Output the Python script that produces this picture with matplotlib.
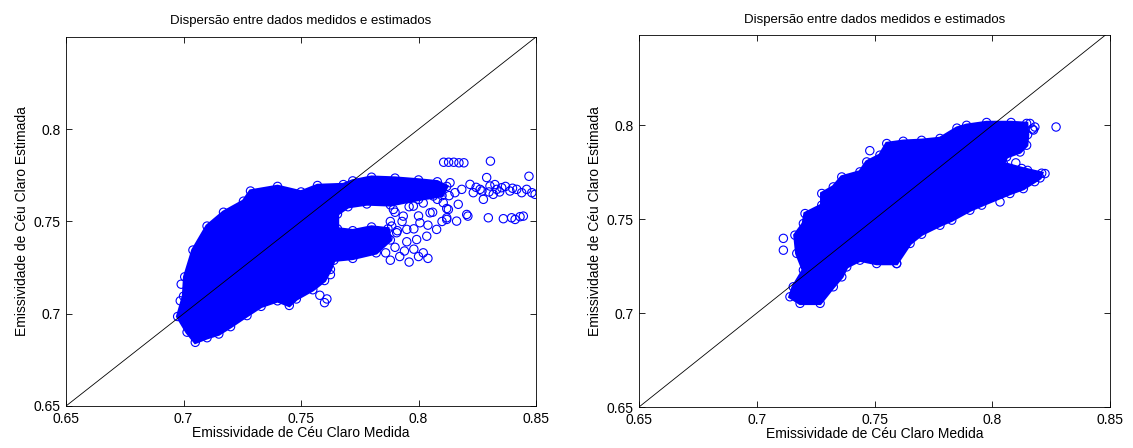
import numpy as np
import matplotlib
matplotlib.use('Agg')
import matplotlib.pyplot as plt
from matplotlib.ticker import FormatStrFormatter

plt.rcParams['font.family'] = ['Liberation Sans', 'DejaVu Sans']

# reta 1:1 (limites dos eixos)
linha_ref = [0.65, 0.85]
ticks_x = [0.65, 0.70, 0.75, 0.80, 0.85]
ticks_y = [0.65, 0.70, 0.75, 0.80]

titulo = 'Dispersão entre dados medidos e estimados'
rot_x = 'Emissividade de Céu Claro Medida'
rot_y = 'Emissividade de Céu Claro Estimada'

# ---------------- painel esquerdo ----------------
# contorno da nuvem densa (medida, estimada)
esq_nuvem_x = [0.7050, 0.7015, 0.6975, 0.7000, 0.7005, 0.7040, 0.7100, 0.7170,
               0.7255, 0.7285, 0.7400, 0.7500, 0.7570, 0.7680, 0.7720, 0.7800,
               0.7900, 0.8000, 0.8080, 0.8120, 0.8100, 0.8000, 0.7880, 0.7780,
               0.7700, 0.7655, 0.7655, 0.7720, 0.7800, 0.7870, 0.7880, 0.7820,
               0.7720, 0.7640, 0.7625, 0.7600, 0.7550, 0.7480, 0.7450, 0.7400,
               0.7330, 0.7270, 0.7200, 0.7150, 0.7100]
esq_nuvem_y = [0.6845, 0.6900, 0.6985, 0.7095, 0.7200, 0.7345, 0.7475, 0.7550,
               0.7610, 0.7665, 0.7690, 0.7660, 0.7695, 0.7700, 0.7720, 0.7740,
               0.7735, 0.7725, 0.7715, 0.7690, 0.7640, 0.7620, 0.7590, 0.7595,
               0.7580, 0.7540, 0.7460, 0.7450, 0.7470, 0.7460, 0.7400, 0.7330,
               0.7300, 0.7290, 0.7240, 0.7180, 0.7130, 0.7080, 0.7045, 0.7070,
               0.7040, 0.6990, 0.6930, 0.6890, 0.6870]

# pontos esparsos fora da nuvem
esq_pts_x = [0.790, 0.793, 0.796, 0.798, 0.800, 0.802, 0.804, 0.806, 0.808, 0.810,
             0.812, 0.813, 0.795, 0.800, 0.805, 0.792, 0.788, 0.791,
             0.7893, 0.7935, 0.7978, 0.8006, 0.8049, 0.8077, 0.8105, 0.8120,
             0.7907, 0.7950, 0.8035, 0.7964, 0.8063, 0.7921, 0.8091, 0.7886,
             0.7992, 0.8127,
             0.784, 0.786, 0.788, 0.790, 0.792, 0.794, 0.796, 0.798, 0.800,
             0.802, 0.804, 0.787, 0.795,
             0.8134, 0.8155, 0.8184, 0.8219, 0.8233, 0.8262, 0.8276, 0.8290,
             0.8304, 0.8318, 0.8333, 0.8354, 0.8389, 0.8418, 0.8439, 0.8460,
             0.8482, 0.8496, 0.8169, 0.8205, 0.8120, 0.8162, 0.8297, 0.8361,
             0.8396, 0.8432, 0.8411, 0.8446, 0.8210,
             0.8245, 0.8270, 0.8300, 0.8325, 0.8345, 0.8370, 0.8400,
             0.8107, 0.8128, 0.8150, 0.8172, 0.8193, 0.8306, 0.8470,
             0.6986, 0.6990, 0.7625, 0.7610, 0.7580, 0.7600]
esq_pts_y = [0.755, 0.750, 0.758, 0.746, 0.753, 0.760, 0.748, 0.755, 0.762, 0.750,
             0.757, 0.764, 0.765, 0.767, 0.766, 0.762, 0.750, 0.745,
             0.7565, 0.7529, 0.7583, 0.7493, 0.7547, 0.7457, 0.7602, 0.7511,
             0.7439, 0.7457, 0.7420, 0.7656, 0.7638, 0.7620, 0.7674, 0.7475,
             0.7402, 0.7565,
             0.738, 0.733, 0.729, 0.736, 0.731, 0.734, 0.728, 0.735, 0.731,
             0.733, 0.730, 0.741, 0.739,
             0.7710, 0.7656, 0.7674, 0.7701, 0.7656, 0.7674, 0.7620, 0.7738,
             0.7692, 0.7647, 0.7674, 0.7683, 0.7665, 0.7674, 0.7656, 0.7674,
             0.7656, 0.7647, 0.7593, 0.7538, 0.7520, 0.7502, 0.7520, 0.7515,
             0.7520, 0.7526, 0.7511, 0.7529, 0.7529,
             0.7685, 0.7665, 0.7660, 0.7700, 0.7660, 0.7690, 0.7680,
             0.7821, 0.7821, 0.7821, 0.7818, 0.7818, 0.7827, 0.7745,
             0.7070, 0.7160, 0.7212, 0.7080, 0.7100, 0.7060]

# ---------------- painel direito ----------------
dir_nuvem_x = [0.7184, 0.7141, 0.7155, 0.7198, 0.7170, 0.7162, 0.7198, 0.7205,
               0.7276, 0.7276, 0.7325, 0.7361, 0.7438, 0.7467, 0.7523, 0.7552,
               0.7622, 0.7700, 0.7778, 0.7850, 0.7891, 0.7976, 0.8080, 0.8146,
               0.8150, 0.8146, 0.8118, 0.8061, 0.8047, 0.8125, 0.8210, 0.8203,
               0.8132, 0.8075, 0.7955, 0.7905, 0.7828, 0.7778, 0.7700, 0.7651,
               0.7594, 0.7509, 0.7438, 0.7382, 0.7361, 0.7325, 0.7269]
dir_nuvem_y = [0.7052, 0.7087, 0.7140, 0.7229, 0.7318, 0.7415, 0.7477, 0.7530,
               0.7575, 0.7637, 0.7672, 0.7725, 0.7752, 0.7805, 0.7841, 0.7903,
               0.7915, 0.7920, 0.7930, 0.7985, 0.8000, 0.8015, 0.8015, 0.8010,
               0.7950, 0.7894, 0.7858, 0.7832, 0.7797, 0.7770, 0.7745, 0.7720,
               0.7663, 0.7637, 0.7575, 0.7548, 0.7495, 0.7468, 0.7420, 0.7371,
               0.7264, 0.7264, 0.7282, 0.7246, 0.7193, 0.7140, 0.7052]

dir_pts_x = [0.8271, 0.8181, 0.8170, 0.8160, 0.8175, 0.8033, 0.7113, 0.7113,
             0.8224, 0.8100, 0.8150, 0.8180, 0.8100, 0.7594, 0.7480, 0.8000]
dir_pts_y = [0.7991, 0.7991, 0.7980, 0.8010, 0.7975, 0.7592, 0.7335, 0.7398,
             0.7743, 0.7800, 0.7760, 0.7700, 0.7700, 0.7264, 0.7865, 0.7620]


def painel(ax, nx, ny, px, py, ytop):
    ax.fill(nx, ny, color='blue', lw=2.5, ec='blue', zorder=2)
    ax.scatter(nx, ny, s=36, marker='o', facecolors='none', edgecolors='blue',
               linewidths=0.8, zorder=3)
    ax.scatter(px, py, s=36, marker='o', facecolors='none', edgecolors='blue',
               linewidths=0.8, zorder=3)
    ax.plot(linha_ref, linha_ref, color='black', lw=0.6, zorder=4)
    ax.set_xlim(0.65, 0.85)
    ax.set_ylim(0.65, ytop)
    ax.set_xticks(ticks_x)
    ax.set_yticks(ticks_y)
    ax.xaxis.set_major_formatter(FormatStrFormatter('%g'))
    ax.yaxis.set_major_formatter(FormatStrFormatter('%g'))
    ax.tick_params(direction='in', length=4, width=0.6, top=True, right=True,
                   labelsize=10)
    ax.tick_params(axis='x', pad=4)
    ax.tick_params(axis='y', pad=4)
    for s in ax.spines.values():
        s.set_linewidth(0.6)
    ax.set_title(titulo, fontsize=9.5, pad=9)
    ax.set_xlabel(rot_x, fontsize=10, labelpad=0)
    ax.set_ylabel(rot_y, fontsize=10, labelpad=3)


fig = plt.figure(figsize=(11.33, 4.48), dpi=100)
ax1 = fig.add_axes([0.0583, 0.0938, 0.4148, 0.8237])
ax2 = fig.add_axes([0.5640, 0.0915, 0.4157, 0.8300])

painel(ax1, esq_nuvem_x, esq_nuvem_y, esq_pts_x, esq_pts_y, 0.85)
painel(ax2, dir_nuvem_x, dir_nuvem_y, dir_pts_x, dir_pts_y, 0.848)

fig.savefig('out.png', dpi=100)
